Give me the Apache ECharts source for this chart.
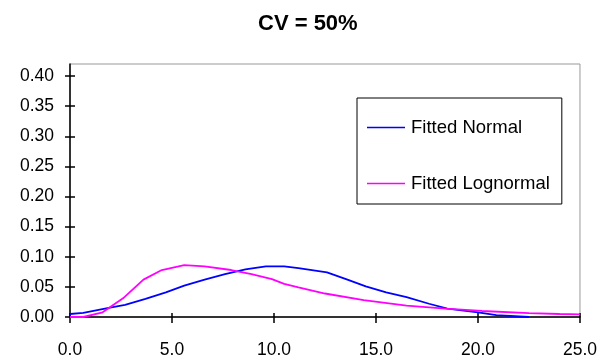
<!DOCTYPE html>
<html>
<head>
<meta charset="utf-8">
<script src="https://cdn.jsdelivr.net/npm/echarts@6/dist/echarts.min.js"></script>
<style>
  html, body { margin: 0; padding: 0; background: #fff; }
  #chart { width: 600px; height: 359px; }
</style>
</head>
<body>
<div id="chart"></div>
<script>
// values
const normalX = [0, 0.65, 1.9, 2.7, 3.7, 4.7, 5.6, 6.6, 7.6, 8.6, 9.6, 10.5, 11.2, 12.6, 13.6, 14.5, 15.5, 16.5, 17.6, 18.5, 20.0, 20.9, 22.5];
const normalY = [0.005, 0.007, 0.015, 0.020, 0.030, 0.041, 0.052, 0.062, 0.071, 0.079, 0.084, 0.084, 0.081, 0.074, 0.062, 0.051, 0.041, 0.033, 0.022, 0.014, 0.0077, 0.003, 0.0];

const lognormalX = [0, 0.65, 1.6, 2.6, 3.6, 4.5, 5.6, 6.6, 7.9, 8.9, 9.9, 10.5, 11.2, 12.5, 14.4, 16.5, 18.4, 20.2, 22.5, 24.0, 25.0];
const lognormalY = [0, 0, 0.0077, 0.031, 0.062, 0.078, 0.086, 0.084, 0.078, 0.071, 0.063, 0.055, 0.049, 0.039, 0.028, 0.019, 0.014, 0.010, 0.0065, 0.005, 0.0044];

const yTicks = [0, 0.05, 0.1, 0.15, 0.2, 0.25, 0.3, 0.35, 0.4];
const seriesNames = ["Fitted Normal", "Fitted Lognormal"];

const chart = echarts.init(document.getElementById("chart"));

const font = "Liberation Sans, Arial, sans-serif";

function pairs(xs, ys) {
  return xs.map((x, i) => [x, ys[i]]);
}

const option = {
  animation: false,
  title: {
    text: "CV = 50%",
    left: 258,
    top: 13,
    padding: 0,
    textStyle: { fontFamily: font, fontSize: 22, fontWeight: "bold", color: "#000" }
  },
  legend: {
    orient: "vertical",
    left: 357,
    top: 98,
    padding: [20, 12, 11, 10],
    itemGap: 37,
    itemWidth: 38,
    itemHeight: 1.5,
    icon: "rect",
    backgroundColor: "#fff",
    borderColor: "#000",
    borderWidth: 1,
    textStyle: { fontFamily: font, fontSize: 18.5, color: "#000", padding: [0, 0, 0, 1] },
    data: seriesNames
  },
  grid: {
    left: 70,
    right: 15,
    top: 64,
    bottom: 37,
    show: true,
    borderColor: "#999",
    borderWidth: 1
  },
  xAxis: [
    {
      type: "value",
      min: 0,
      max: 25,
      interval: 5,
      axisLine: { show: true, lineStyle: { color: "#000", width: 1.5 } },
      axisTick: { show: true, length: 6, lineStyle: { color: "#000", width: 1.5 } },
      axisLabel: {
        margin: 24,
        fontFamily: font,
        fontSize: 17.5,
        color: "#000",
        formatter: v => v.toFixed(1)
      },
      splitLine: { show: false }
    },
    {
      type: "value",
      min: 0,
      max: 25,
      interval: 5,
      position: "bottom",
      axisLine: { show: false },
      axisTick: { show: true, inside: true, length: 4, lineStyle: { color: "#000", width: 1.5 } },
      axisLabel: { show: false },
      splitLine: { show: false }
    }
  ],
  yAxis: [
    {
      type: "value",
      min: 0,
      max: 0.42,
      axisLine: { show: true, lineStyle: { color: "#000", width: 1.5 } },
      axisTick: { show: true, length: 5, customValues: yTicks, lineStyle: { color: "#000", width: 1.5 } },
      axisLabel: {
        margin: 16,
        fontFamily: font,
        fontSize: 17.5,
        color: "#000",
        customValues: yTicks,
        formatter: v => v.toFixed(2)
      },
      splitLine: { show: false }
    },
    {
      type: "value",
      min: 0,
      max: 0.42,
      position: "left",
      axisLine: { show: false },
      axisTick: { show: true, inside: true, length: 5, customValues: yTicks, lineStyle: { color: "#000", width: 1.5 } },
      axisLabel: { show: false, customValues: yTicks },
      splitLine: { show: false }
    }
  ],
  series: [
    {
      name: seriesNames[0],
      type: "line",
      data: pairs(normalX, normalY),
      symbol: "none",
      lineStyle: { color: "#0000ff", width: 1.8 },
      itemStyle: { color: "#0000ff" }
    },
    {
      name: seriesNames[1],
      type: "line",
      data: pairs(lognormalX, lognormalY),
      symbol: "none",
      lineStyle: { color: "#ff00ff", width: 1.8 },
      itemStyle: { color: "#ff00ff" }
    }
  ]
};

chart.setOption(option);
</script>
</body>
</html>
